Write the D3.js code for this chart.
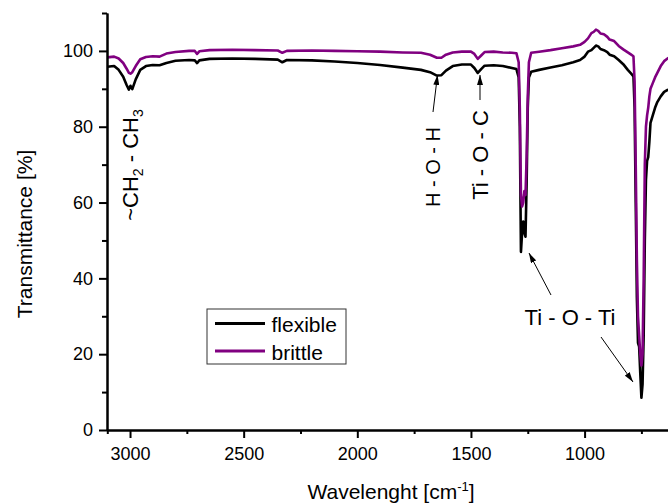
<!DOCTYPE html>
<html>
<head>
<meta charset="utf-8">
<script src="https://cdn.jsdelivr.net/npm/d3@7"></script>
<style>
  body { margin: 0; background: #fff; }
  svg { display: block; font-family: "Liberation Sans", Arial, sans-serif; }
</style>
</head>
<body>
<svg id="chart" width="668" height="503"></svg>
<script>
// wavenumbers (cm-1) sampled along the spectra
var wavenumbers = [3100, 3070, 3050, 3030, 3015, 3005, 2998, 2990, 2975, 2955, 2930, 2900, 2870, 2840, 2800,
  2740, 2715, 2705, 2695, 2650, 2550, 2450, 2350, 2330, 2310, 2200, 2100, 2000, 1900, 1800, 1720, 1680,
  1650, 1630, 1610, 1580, 1540, 1500, 1485, 1470, 1455, 1440, 1400, 1360, 1320, 1300, 1290, 1285, 1280,
  1275, 1270, 1265, 1260, 1255, 1250, 1245, 1235, 1200, 1150, 1100, 1050, 1020, 1000, 985, 970, 960, 950,
  940, 930, 915, 900, 890, 870, 850, 830, 810, 795, 785, 780, 775, 770, 765, 760, 755, 750, 745, 740, 735,
  730, 725, 720, 715, 710, 700, 690, 680, 665, 650, 635, 620];

// transmittance [%] of the flexible sample
var flexible = [95.8, 96.0, 95.0, 93.2, 91.0, 89.8, 90.8, 89.9, 92.5, 95.0, 96.0, 96.3, 96.2, 96.8, 97.4,
  97.6, 97.5, 96.8, 97.5, 97.9, 98.0, 97.9, 97.7, 97.0, 97.6, 97.5, 97.2, 96.8, 96.3, 95.6, 95.0, 94.4,
  93.5, 93.6, 94.8, 96.0, 96.4, 96.4, 95.5, 94.2, 95.2, 96.1, 96.2, 96.0, 95.5, 95.2, 93.0, 80.0, 47.0,
  52.0, 55.0, 52.0, 51.0, 65.0, 85.0, 93.0, 94.5, 95.0, 95.6, 96.2, 97.0, 97.6, 98.5, 99.8, 100.2, 100.8, 101.4,
  101.2, 100.5, 100.2, 99.7, 99.0, 98.6, 97.6, 96.5, 95.0, 94.0, 93.3, 85.0, 60.0, 35.0, 23.0, 22.0, 15.0, 8.5, 12.0, 25.0, 50.0,
  66.0, 71.0, 72.0, 76.0, 81.0, 83.0, 85.0, 86.5, 88.0, 89.2, 89.7, 90.0];

// transmittance [%] of the brittle sample
var brittle = [98.3, 98.5, 98.0, 96.8, 95.3, 94.2, 94.0, 94.4, 96.0, 97.8, 98.4, 98.6, 98.5, 99.3, 99.7,
  100.0, 100.0, 99.2, 99.9, 100.2, 100.3, 100.2, 100.1, 99.5, 100.0, 100.1, 100.0, 99.9, 99.8, 99.6, 99.5, 99.0,
  98.2, 98.2, 99.0, 99.6, 99.8, 99.8, 99.2, 97.9, 98.8, 99.7, 99.8, 99.6, 99.5, 99.4, 97.0, 85.0, 62.0,
  59.0, 60.0, 63.0, 62.0, 72.0, 88.0, 97.0, 99.5, 99.8, 100.2, 100.7, 101.2, 101.6, 102.4, 103.3, 104.7, 105.0, 105.6,
  105.3, 104.6, 104.4, 103.7, 103.0, 102.6, 101.3, 100.4, 99.6, 99.0, 98.6, 92.0, 70.0, 45.0, 30.0, 25.0, 20.0, 17.0, 20.0, 40.0, 70.0,
  80.0, 83.0, 85.0, 88.0, 90.0, 91.5, 93.0, 94.2, 96.0, 97.3, 98.0, 98.4];

var seriesNames = ["flexible", "brittle"];
var seriesColors = ["#000000", "#800080"];

var xMajorTicks = [3000, 2500, 2000, 1500, 1000];
var xMinorTicks = [2750, 2250, 1750, 1250, 750];
var yMajorTicks = [0, 20, 40, 60, 80, 100];
var yMinorTicks = [10, 30, 50, 70, 90, 110];

var svg = d3.select("#chart");

//Reversed wavenumber axis, plot runs past the right edge of the picture.
var x = d3.scaleLinear().domain([3100, 600]).range([107.3, 675.5]);
var y = d3.scaleLinear().domain([0, 110]).range([430, 13]);

var fmt = d3.format("d");

//Curves first so the axes sit on top of them.
var lineGen = d3.line()
  .x(function(d) { return x(d[0]); })
  .y(function(d) { return y(d[1]); });

[flexible, brittle].forEach(function(vals, i) {
  svg.append("path")
    .datum(wavenumbers.map(function(w, j) { return [w, vals[j]]; }))
    .attr("fill", "none")
    .attr("stroke", seriesColors[i])
    .attr("stroke-width", 2.6)
    .attr("stroke-linejoin", "round")
    .attr("d", lineGen);
});

//Axes.
function styleAxis(g) {
  g.selectAll("path, line").attr("stroke", "#000").attr("stroke-width", 2);
  g.selectAll("text").attr("font-size", 18).attr("font-family", "Liberation Sans, Arial, sans-serif").attr("fill", "#000");
}

svg.append("g")
  .attr("transform", "translate(0,430)")
  .call(d3.axisBottom(x).tickValues(xMinorTicks).tickSize(4).tickFormat(""))
  .call(styleAxis);
svg.append("g")
  .attr("transform", "translate(0,430)")
  .call(d3.axisBottom(x).tickValues(xMajorTicks).tickSize(8).tickSizeOuter(0).tickPadding(9).tickFormat(fmt))
  .call(styleAxis);

svg.append("g")
  .attr("transform", "translate(107,0)")
  .call(d3.axisLeft(y).tickValues(yMinorTicks).tickSize(5).tickSizeOuter(0).tickFormat(""))
  .call(styleAxis);
svg.append("g")
  .attr("transform", "translate(107,0)")
  .call(d3.axisLeft(y).tickValues(yMajorTicks).tickSize(8).tickSizeOuter(0).tickPadding(6).tickFormat(fmt))
  .call(styleAxis);

//Axis titles.
var xTitle = svg.append("text")
  .attr("x", 391)
  .attr("y", 499)
  .attr("text-anchor", "middle")
  .attr("font-size", 21);
xTitle.append("tspan").text("Wavelenght [cm");
xTitle.append("tspan").attr("font-size", 13).attr("dy", -8).text("-1");
xTitle.append("tspan").attr("dy", 8).text("]");

svg.append("text")
  .attr("transform", "translate(32,234) rotate(-90)")
  .attr("text-anchor", "middle")
  .attr("font-size", 21)
  .text("Transmittance [%]");

//Arrow marker for the peak labels.
svg.append("defs").append("marker")
  .attr("id", "arrow")
  .attr("viewBox", "0 0 10 6")
  .attr("refX", 10)
  .attr("refY", 3)
  .attr("markerWidth", 10)
  .attr("markerHeight", 6)
  .attr("markerUnits", "userSpaceOnUse")
  .attr("orient", "auto")
  .append("path")
  .attr("d", "M0,0 L10,3 L0,6 Z")
  .attr("fill", "#000");

function arrow(x1, y1, x2, y2) {
  svg.append("line")
    .attr("x1", x1).attr("y1", y1)
    .attr("x2", x2).attr("y2", y2)
    .attr("stroke", "#000")
    .attr("stroke-width", 1)
    .attr("marker-end", "url(#arrow)");
}

arrow(433, 112, 437.5, 75);
arrow(480, 100, 480, 75);
arrow(551, 295, 529, 253);
arrow(601, 337, 633, 382);

//Rotated peak labels.
var ch = svg.append("text")
  .attr("transform", "translate(138,165) rotate(-90)")
  .attr("text-anchor", "middle")
  .attr("font-size", 22);
ch.append("tspan").text("~CH");
ch.append("tspan").attr("font-size", 14).attr("dy", 5).text("2");
ch.append("tspan").attr("dy", -5).text(" - CH");
ch.append("tspan").attr("font-size", 14).attr("dy", 5).text("3");

svg.append("text")
  .attr("transform", "translate(440,167) rotate(-90)")
  .attr("text-anchor", "middle")
  .attr("font-size", 20)
  .text("H - O - H");

svg.append("text")
  .attr("transform", "translate(488,155) rotate(-90)")
  .attr("text-anchor", "middle")
  .attr("font-size", 22)
  .text("Ti - O - C");

svg.append("text")
  .attr("x", 570)
  .attr("y", 325)
  .attr("text-anchor", "middle")
  .attr("font-size", 22)
  .text("Ti - O - Ti");

//Legend.
var legend = svg.append("g");
legend.append("rect")
  .attr("x", 207).attr("y", 309)
  .attr("width", 139).attr("height", 55)
  .attr("fill", "#fff")
  .attr("stroke", "#333")
  .attr("stroke-width", 1);

seriesNames.forEach(function(name, i) {
  var ly = 323.5 + i * 27.5;
  legend.append("line")
    .attr("x1", 215).attr("x2", 265)
    .attr("y1", ly).attr("y2", ly)
    .attr("stroke", seriesColors[i])
    .attr("stroke-width", 3);
  legend.append("text")
    .attr("x", 271.5).attr("y", ly + 8.5)
    .attr("font-size", 21)
    .text(name);
});
</script>
</body>
</html>
